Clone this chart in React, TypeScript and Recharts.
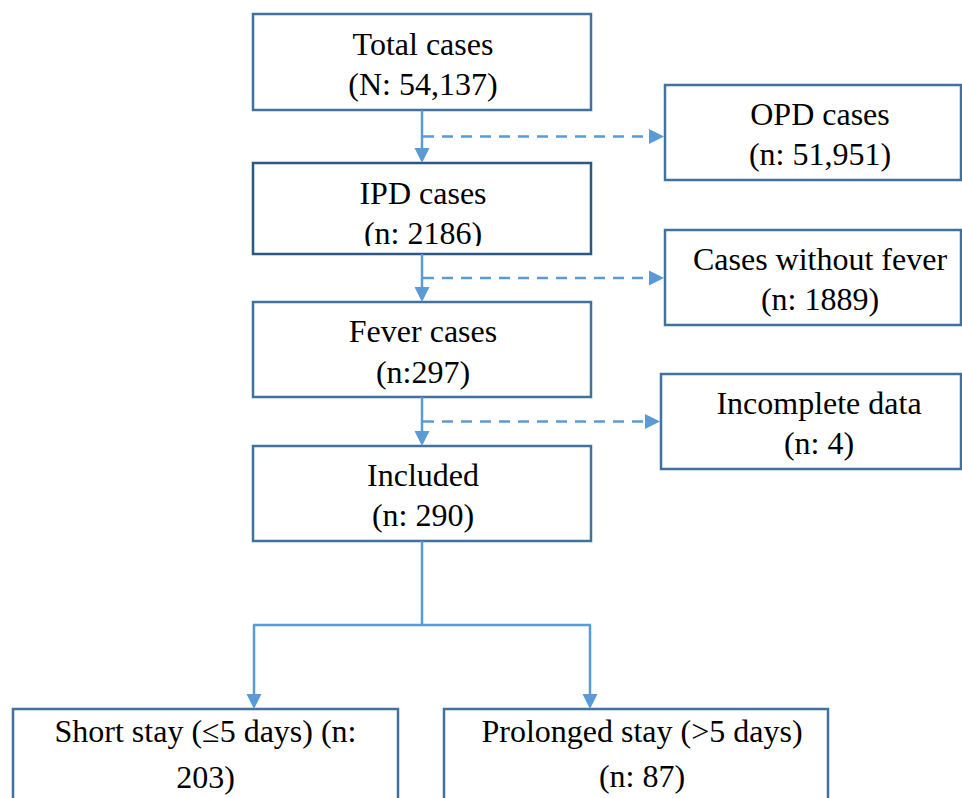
import React from 'react';
import { ScatterChart, Scatter, XAxis, YAxis, ReferenceArea, ReferenceLine } from 'recharts';

// ---- Data ----
const nodeNames = [
  'Total cases',
  'OPD cases',
  'IPD cases',
  'Cases without fever',
  'Fever cases',
  'Incomplete data',
  'Included',
  'Short stay (≤5 days) (n:',
  'Prolonged stay (>5 days)',
];
const nodeCounts = [
  '(N: 54,137)',
  '(n: 51,951)',
  '(n: 2186)',
  '(n: 1889)',
  '(n:297)',
  '(n: 4)',
  '(n: 290)',
  '203)',
  '(n: 87)',
];
const edgeFrom = [0, 0, 2, 2, 4, 4, 6, 6];
const edgeTo = [2, 1, 4, 3, 6, 5, 7, 8];
const edgeKind = ['main', 'exclude', 'main', 'exclude', 'main', 'exclude', 'split', 'split'];

// ---- Layout (diagram units) ----
const W = 962;
const H = 798;
const boxLayout = [
  { x1: 253, x2: 591, y1: 14, y2: 110 },
  { x1: 665, x2: 961, y1: 85, y2: 180 },
  { x1: 253, x2: 591, y1: 163, y2: 254 },
  { x1: 665, x2: 961, y1: 230, y2: 325 },
  { x1: 253, x2: 591, y1: 302, y2: 397 },
  { x1: 661, x2: 961, y1: 374, y2: 469 },
  { x1: 253, x2: 591, y1: 446, y2: 541 },
  { x1: 13, x2: 398, y1: 709, y2: 840 },
  { x1: 444, x2: 828, y1: 709, y2: 840 },
];
const textOffsets = [
  [40.5, 81], [40, 80], [40.5, 80.5], [40, 80], [40, 81], [40, 80], [40, 80], [33, 79], [33, 78],
];
const textDx = [1, 7, 1, 7, 1, 8, 1, 0, 6];
const clipText = [false, false, true, false, false, false, false, false, false];
const darkBorder = [false, false, true, false, false, false, false, false, false];
const splitJunctionY = 625;
const splitX: Record<number, number> = { 7: 254, 8: 590 };

const BOX_STROKE = '#41719C';
const BOX_STROKE_DARK = '#2B5783';
const LINE = '#5B9BD5';
const FONT = '"Liberation Serif", "Times New Roman", serif';

type Seg = { p1: { x: number; y: number }; p2: { x: number; y: number }; dashed: boolean; arrow: boolean };

const cx = (i: number) => (boxLayout[i].x1 + boxLayout[i].x2) / 2;

function buildSegments(): Seg[] {
  const segs: Seg[] = [];
  const trunkDone: Record<number, boolean> = {};
  edgeFrom.forEach((from, k) => {
    const to = edgeTo[k];
    const kind = edgeKind[k];
    const s = boxLayout[from];
    const t = boxLayout[to];
    if (kind === 'main') {
      segs.push({ p1: { x: cx(from), y: s.y2 }, p2: { x: cx(from), y: t.y1 }, dashed: false, arrow: true });
    } else if (kind === 'exclude') {
      const mainIdx = edgeFrom.findIndex((f, j) => f === from && edgeKind[j] === 'main');
      const child = boxLayout[edgeTo[mainIdx]];
      const y = (s.y2 + child.y1) / 2;
      segs.push({ p1: { x: cx(from) + 1, y }, p2: { x: t.x1 - 1, y }, dashed: true, arrow: true });
    } else {
      if (!trunkDone[from]) {
        trunkDone[from] = true;
        const xs = edgeTo.filter((_, j) => edgeFrom[j] === from && edgeKind[j] === 'split').map((j) => splitX[j]);
        segs.push({ p1: { x: cx(from), y: s.y2 }, p2: { x: cx(from), y: splitJunctionY }, dashed: false, arrow: false });
        segs.push({
          p1: { x: Math.min(...xs) - 1, y: splitJunctionY },
          p2: { x: Math.max(...xs) + 1, y: splitJunctionY },
          dashed: false,
          arrow: false,
        });
      }
      const sx = splitX[to];
      segs.push({ p1: { x: sx, y: splitJunctionY }, p2: { x: sx, y: t.y1 }, dashed: false, arrow: true });
    }
  });
  return segs;
}

const makeShape = (dashed: boolean, arrow: boolean) => (p: any) => {
  const { x1, y1, x2, y2 } = p;
  const dx = x2 - x1;
  const dy = y2 - y1;
  const len = Math.hypot(dx, dy) || 1;
  const ux = dx / len;
  const uy = dy / len;
  const L = arrow ? 15 : 0;
  const HW = 7.5;
  const ex = x2 - ux * L;
  const ey = y2 - uy * L;
  return (
    <g>
      <line
        x1={x1}
        y1={y1}
        x2={ex}
        y2={ey}
        stroke={LINE}
        strokeWidth={2.5}
        strokeDasharray={dashed ? '11 8' : undefined}
      />
      {arrow && (
        <polygon
          points={`${x2},${y2} ${ex - uy * HW},${ey + ux * HW} ${ex + uy * HW},${ey - ux * HW}`}
          fill={LINE}
        />
      )}
    </g>
  );
};

const BoxText = (i: number) => (props: any) => {
  const vb = props.viewBox || {};
  const x = vb.x + vb.width / 2 + textDx[i];
  const top = vb.y;
  const [o1, o2] = textOffsets[i];
  const clipId = `clip-box-${i}`;
  return (
    <g>
      {clipText[i] && (
        <defs>
          <clipPath id={clipId}>
            <rect x={vb.x} y={vb.y} width={vb.width} height={vb.height - 8} />
          </clipPath>
        </defs>
      )}
      <g clipPath={clipText[i] ? `url(#${clipId})` : undefined}>
        <text x={x} y={top + o1} textAnchor="middle" fontFamily={FONT} fontSize={32} fill="#000">
          {nodeNames[i]}
        </text>
        <text x={x} y={top + o2} textAnchor="middle" fontFamily={FONT} fontSize={32} fill="#000">
          {nodeCounts[i]}
        </text>
      </g>
    </g>
  );
};

export default function App() {
  const segs = buildSegments();
  const anchors = boxLayout.map((b, i) => ({ x: cx(i), y: (b.y1 + Math.min(b.y2, H)) / 2 }));
  return (
    <div style={{ position: 'absolute', left: 0, top: 0, width: W, height: H, overflow: 'hidden', background: '#fff' }}>
      <ScatterChart width={W} height={H} margin={{ top: 0, right: 0, bottom: 0, left: 0 }}>
        <XAxis type="number" dataKey="x" domain={[0, W]} hide allowDataOverflow />
        <YAxis type="number" dataKey="y" domain={[0, H]} reversed hide allowDataOverflow />
        {boxLayout.map((b, i) => (
          <ReferenceArea
            key={`box-${i}`}
            x1={b.x1}
            x2={b.x2}
            y1={b.y1}
            y2={b.y2}
            fill="#ffffff"
            fillOpacity={1}
            stroke={darkBorder[i] ? BOX_STROKE_DARK : BOX_STROKE}
            strokeWidth={2.5}
            ifOverflow="visible"
            label={BoxText(i)}
          />
        ))}
        {segs.map((s, k) => (
          <ReferenceLine
            key={`seg-${k}`}
            segment={[s.p1, s.p2]}
            ifOverflow="visible"
            shape={makeShape(s.dashed, s.arrow)}
          />
        ))}
        <Scatter data={anchors} isAnimationActive={false} shape={() => <g />} />
      </ScatterChart>
    </div>
  );
}
